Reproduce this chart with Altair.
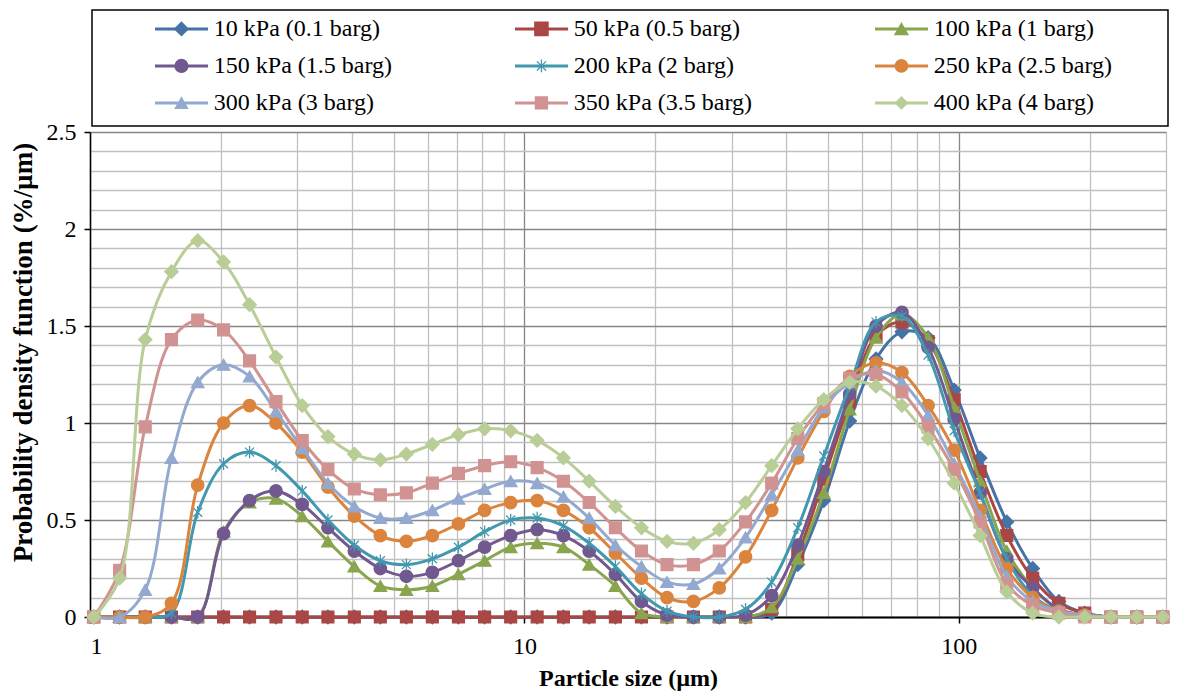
import altair as alt
import pandas as pd

# particle sizes (µm) of the measurement bands
sizes = [1.02, 1.17, 1.34, 1.54, 1.77, 2.03, 2.33, 2.68, 3.08, 3.53,
         4.06, 4.66, 5.35, 6.14, 7.05, 8.10, 9.30, 10.7, 12.3, 14.1,
         16.2, 18.6, 21.3, 24.5, 28.1, 32.3, 37.1, 42.6, 48.9, 56.1,
         64.5, 74.0, 85.0, 97.6, 112, 129, 148, 170, 195, 224, 257, 295]

series_names = ["10 kPa (0.1 barg)", "50 kPa (0.5 barg)", "100 kPa (1 barg)",
                "150 kPa (1.5 barg)", "200 kPa (2 barg)", "250 kPa (2.5 barg)",
                "300 kPa (3 barg)", "350 kPa (3.5 barg)", "400 kPa (4 barg)"]

p10 = [0]*26 + [0.02, 0.27, 0.60, 1.01, 1.33, 1.47, 1.44, 1.17, 0.82, 0.49, 0.25, 0.08, 0.02, 0, 0, 0]
p50 = [0]*26 + [0.04, 0.32, 0.71, 1.11, 1.45, 1.52, 1.42, 1.12, 0.75, 0.42, 0.20, 0.07, 0.02, 0, 0, 0]
p100 = [0, 0, 0, 0, 0, 0.44, 0.59, 0.61, 0.52, 0.39, 0.26, 0.16, 0.14, 0.16, 0.22, 0.29,
        0.36, 0.38, 0.36, 0.27, 0.16, 0.02, 0, 0, 0, 0, 0.05, 0.30, 0.64, 1.07, 1.44, 1.56,
        1.44, 1.08, 0.70, 0.34, 0.15, 0.04, 0.01, 0, 0, 0]
p150 = [0, 0, 0, 0, 0, 0.43, 0.60, 0.65, 0.58, 0.46, 0.34, 0.25, 0.21, 0.23, 0.29, 0.36,
        0.42, 0.45, 0.42, 0.34, 0.22, 0.08, 0.01, 0, 0, 0.01, 0.11, 0.37, 0.75, 1.15, 1.50, 1.57,
        1.39, 1.02, 0.64, 0.30, 0.15, 0.04, 0.01, 0, 0, 0]
p200 = [0, 0, 0, 0.02, 0.54, 0.79, 0.85, 0.78, 0.65, 0.50, 0.37, 0.29, 0.27, 0.30, 0.36, 0.44,
        0.50, 0.51, 0.47, 0.38, 0.26, 0.12, 0.03, 0, 0, 0.04, 0.18, 0.46, 0.83, 1.19, 1.52, 1.55,
        1.35, 0.96, 0.64, 0.30, 0.11, 0.03, 0.01, 0, 0, 0]
p250 = [0, 0, 0, 0.07, 0.68, 1.00, 1.09, 1.00, 0.85, 0.67, 0.52, 0.42, 0.39, 0.42, 0.48, 0.55,
        0.59, 0.60, 0.55, 0.46, 0.33, 0.20, 0.10, 0.08, 0.15, 0.31, 0.55, 0.82, 1.06, 1.24, 1.31, 1.26,
        1.09, 0.86, 0.55, 0.25, 0.10, 0.03, 0.01, 0, 0, 0]
p300 = [0, 0, 0.14, 0.82, 1.21, 1.30, 1.24, 1.06, 0.87, 0.69, 0.57, 0.51, 0.51, 0.55, 0.61, 0.66,
        0.70, 0.69, 0.62, 0.51, 0.37, 0.26, 0.18, 0.17, 0.25, 0.41, 0.63, 0.86, 1.08, 1.21, 1.27, 1.21,
        1.04, 0.79, 0.52, 0.21, 0.08, 0.03, 0.01, 0, 0, 0]
p350 = [0, 0.24, 0.98, 1.43, 1.53, 1.48, 1.32, 1.11, 0.91, 0.76, 0.66, 0.63, 0.64, 0.69, 0.74, 0.78,
        0.80, 0.77, 0.70, 0.59, 0.46, 0.34, 0.27, 0.27, 0.34, 0.49, 0.69, 0.92, 1.10, 1.23, 1.25, 1.16,
        0.98, 0.76, 0.49, 0.17, 0.06, 0.02, 0, 0, 0, 0]
p400 = [0, 0.20, 1.43, 1.78, 1.94, 1.83, 1.61, 1.34, 1.09, 0.93, 0.84, 0.81, 0.84, 0.89, 0.94, 0.97,
        0.96, 0.91, 0.82, 0.70, 0.57, 0.46, 0.39, 0.38, 0.45, 0.59, 0.78, 0.97, 1.12, 1.21, 1.19, 1.09,
        0.92, 0.69, 0.42, 0.13, 0.02, 0, 0, 0, 0, 0]

series_values = [p10, p50, p100, p150, p200, p250, p300, p350, p400]

colors = ["#4572A7", "#AA4643", "#89A54E", "#71588F", "#4198AF",
          "#DB843D", "#93A9CF", "#D19392", "#B9CD96"]
ASTER = "M-0.72,-0.72L0.72,0.72M-0.72,0.72L0.72,-0.72M0,-1L0,1"
shapes = ["diamond", "square", "triangle-up", "circle", ASTER,
          "circle", "triangle-up", "square", "diamond"]
msizes = [180, 140, 155, 155, 155, 155, 155, 140, 180]

FONT = "Liberation Serif"
W = 1076
H = 485
LW = 1080

rows = []
for name, vals in zip(series_names, series_values):
    for s, v in zip(sizes, vals):
        rows.append({"series": name, "size": s, "pdf": v})
df = pd.DataFrame(rows)

MAJOR = "#868686"
MINOR = "#C0C0C0"

x_ticks = [1, 2, 3, 4, 5, 6, 7, 8, 9, 10, 20, 30, 40, 50, 60, 70, 80, 90, 100, 200, 300]
y_ticks = [i / 10 for i in range(26)]

x_major = "datum.value == 1 || datum.value == 10 || datum.value == 100"
y_major = "abs(datum.value * 2 - round(datum.value * 2)) < 0.001"

X = alt.X("size:Q",
          scale=alt.Scale(type="log", domain=[1, 300], nice=False),
          axis=alt.Axis(values=x_ticks, title="Particle size (µm)",
                        labelExpr=f"({x_major}) ? format(datum.value, 'd') : ''",
                        labelOverlap=False,
                        gridColor={"condition": {"test": x_major, "value": MAJOR}, "value": MINOR},
                        gridWidth=1.3,
                        tickSize={"condition": {"test": x_major, "value": 6}, "value": 0},
                        tickColor="black", tickWidth=1.5,
                        domainColor="black", domainWidth=2,
                        labelFont=FONT, labelFontSize=24, labelColor="black", labelPadding=11,
                        titleFont=FONT, titleFontSize=24, titleFontWeight="bold",
                        titleColor="black", titlePadding=8))
Y = alt.Y("pdf:Q",
          scale=alt.Scale(domain=[0, 2.5], nice=False),
          axis=alt.Axis(values=y_ticks, title="Probability density function (%/µm)",
                        labelExpr=f"({y_major}) ? format(datum.value, '~g') : ''",
                        labelOverlap=False,
                        gridColor={"condition": {"test": y_major, "value": MAJOR}, "value": MINOR},
                        gridWidth=1.3,
                        tickSize={"condition": {"test": y_major, "value": 6}, "value": 0},
                        tickColor="black", tickWidth=1.5,
                        domainColor="black", domainWidth=1.5,
                        labelFont=FONT, labelFontSize=24, labelColor="black", labelPadding=8,
                        titleFont=FONT, titleFontSize=27, titleFontWeight="bold",
                        titleColor="black", titlePadding=9, titleY=220))

layers = []
for i, name in enumerate(series_names):
    sub = df[df["series"] == name]
    base = alt.Chart(sub)
    layers.append(base.mark_line(color=colors[i], strokeWidth=3,
                                 interpolate="catmull-rom").encode(x=X, y=Y))
    layers.append(base.mark_point(shape=shapes[i], filled=True, fill=colors[i],
                                  stroke=colors[i], strokeWidth=1.3, size=msizes[i],
                                  opacity=1).encode(x=X, y=Y))

plot = alt.layer(*layers).properties(width=W, height=H)

# ---- legend box (3 columns x 3 rows) ----
leg = pd.DataFrame({"series": series_names, "idx": list(range(len(series_names)))})
lbase = alt.Chart(leg).transform_calculate(
    col="datum.idx % 3", row="floor(datum.idx / 3)",
    x0="datum.col + 0.1806", x1="datum.col + 0.328",
    xm="datum.col + 0.254", xt="datum.col + 0.344")
LX = alt.Scale(domain=[0, 3], nice=False, zero=False)
LY = alt.Scale(domain=[-0.51, 2.65], nice=False, zero=False, reverse=True)
cscale = alt.Scale(domain=series_names, range=colors)

leg_lines = lbase.mark_rule(strokeWidth=3).encode(
    x=alt.X("x0:Q", scale=LX, axis=None), x2="x1:Q",
    y=alt.Y("row:Q", scale=LY, axis=None),
    color=alt.Color("series:N", scale=cscale, legend=None))
leg_pts = lbase.mark_point(filled=True, opacity=1, strokeWidth=1.3).encode(
    x=alt.X("xm:Q", scale=LX, axis=None),
    y=alt.Y("row:Q", scale=LY, axis=None),
    shape=alt.Shape("series:N", scale=alt.Scale(domain=series_names, range=shapes), legend=None),
    size=alt.Size("series:N", scale=alt.Scale(domain=series_names, range=msizes), legend=None),
    fill=alt.Fill("series:N", scale=cscale, legend=None),
    stroke=alt.Stroke("series:N", scale=cscale, legend=None))
leg_text = lbase.mark_text(align="left", baseline="middle", font=FONT, fontSize=24,
                           color="black").encode(
    x=alt.X("xt:Q", scale=LX, axis=None),
    y=alt.Y("row:Q", scale=LY, axis=None),
    text="series:N")
leg_box = alt.Chart(alt.Data(values=[{"box": 1}])).mark_rect(
    filled=False, stroke="black", strokeWidth=1.5).encode(
    x=alt.value(2), x2=alt.value(LW - 2), y=alt.value(0), y2=alt.value(116))

legend = alt.layer(leg_box, leg_lines, leg_pts, leg_text).properties(width=LW, height=117)

chart = alt.vconcat(legend, plot, spacing=5, bounds="flush").properties(
    padding=0
).configure(font=FONT).configure_text(font=FONT).configure_view(stroke="transparent")

chart.save("out.html", embed_options={"renderer": "svg", "actions": False})
